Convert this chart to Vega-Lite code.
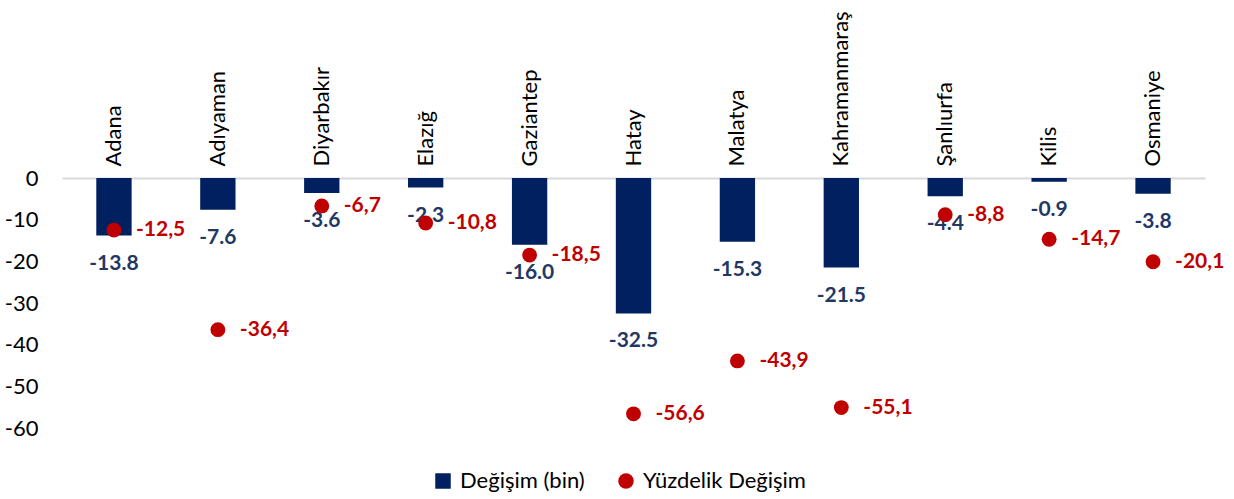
{
  "$schema": "https://vega.github.io/schema/vega-lite/v6.json",
  "width": 1143,
  "height": 250,
  "autosize": {"type": "none"},
  "padding": {"left": 62, "top": 178, "right": 29, "bottom": 71},
  "background": "white",
  "config": {
    "view": {"stroke": null},
    "font": "Lato",
    "locale": {"number": {"decimal": ".", "thousands": ",", "grouping": [3], "currency": ["$", ""], "minus": "-"}},
    "axis": {"labelFont": "Lato", "labelFontSize": 22, "labelColor": "#000000"}
  },
  "data": {
    "values": [
      {"il": "Adana", "degisim": -13.8, "yuzde": -12.5, "yuzdeEtiket": "-12,5"},
      {"il": "Adıyaman", "degisim": -7.6, "yuzde": -36.4, "yuzdeEtiket": "-36,4"},
      {"il": "Diyarbakır", "degisim": -3.6, "yuzde": -6.7, "yuzdeEtiket": "-6,7"},
      {"il": "Elazığ", "degisim": -2.3, "yuzde": -10.8, "yuzdeEtiket": "-10,8"},
      {"il": "Gaziantep", "degisim": -16.0, "yuzde": -18.5, "yuzdeEtiket": "-18,5"},
      {"il": "Hatay", "degisim": -32.5, "yuzde": -56.6, "yuzdeEtiket": "-56,6"},
      {"il": "Malatya", "degisim": -15.3, "yuzde": -43.9, "yuzdeEtiket": "-43,9"},
      {"il": "Kahramanmaraş", "degisim": -21.5, "yuzde": -55.1, "yuzdeEtiket": "-55,1"},
      {"il": "Şanlıurfa", "degisim": -4.4, "yuzde": -8.8, "yuzdeEtiket": "-8,8"},
      {"il": "Kilis", "degisim": -0.9, "yuzde": -14.7, "yuzdeEtiket": "-14,7"},
      {"il": "Osmaniye", "degisim": -3.8, "yuzde": -20.1, "yuzdeEtiket": "-20,1"}
    ]
  },
  "encoding": {
    "x": {
      "field": "il", "type": "nominal", "sort": null,
      "scale": {"paddingInner": 0.66, "paddingOuter": 0.33},
      "axis": {
        "orient": "top", "title": null, "labelAngle": -90, "labelAlign": "left",
        "labelBaseline": "middle", "labelPadding": 12, "ticks": false, "labelLimit": 300,
        "domainColor": "#d9d9d9", "domainWidth": 2
      }
    }
  },
  "layer": [
    {
      "mark": {"type": "bar"},
      "encoding": {
        "y": {
          "field": "degisim", "type": "quantitative",
          "scale": {"domain": [-60, 0], "nice": false},
          "axis": {"title": null, "values": [0, -10, -20, -30, -40, -50, -60], "grid": false, "domain": false, "ticks": false, "labelPadding": 24}
        },
        "color": {
          "datum": "Değişim (bin)",
          "scale": {"domain": ["Değişim (bin)", "Yüzdelik Değişim"], "range": ["#002060", "#C00000"]},
          "legend": {
            "orient": "none", "legendX": 370, "legendY": 292, "direction": "horizontal", "title": null,
            "labelFont": "Lato", "labelFontSize": 22, "labelColor": "#000000", "labelOffset": 6, "labelLimit": 400,
            "symbolSize": 240, "columnPadding": 30, "symbolStrokeWidth": 0,
            "encode": {"symbols": {"update": {"shape": {"signal": "datum.label === 'Değişim (bin)' ? 'square' : 'circle'"}}}}
          }
        }
      }
    },
    {
      "mark": {"type": "text", "fontWeight": "bold", "fontSize": 21, "dy": 28, "color": "#1F3864", "baseline": "middle"},
      "encoding": {
        "y": {"field": "degisim", "type": "quantitative"},
        "text": {"field": "degisim", "type": "quantitative", "format": ".1f"}
      }
    },
    {
      "mark": {"type": "point", "filled": true, "size": 220, "opacity": 1},
      "encoding": {
        "y": {"field": "yuzde", "type": "quantitative"},
        "color": {"datum": "Yüzdelik Değişim"}
      }
    },
    {
      "mark": {"type": "text", "fontWeight": "bold", "fontSize": 21, "dx": 22, "align": "left", "color": "#C00000", "baseline": "middle"},
      "encoding": {
        "y": {"field": "yuzde", "type": "quantitative"},
        "text": {"field": "yuzdeEtiket", "type": "nominal"}
      }
    }
  ]
}
